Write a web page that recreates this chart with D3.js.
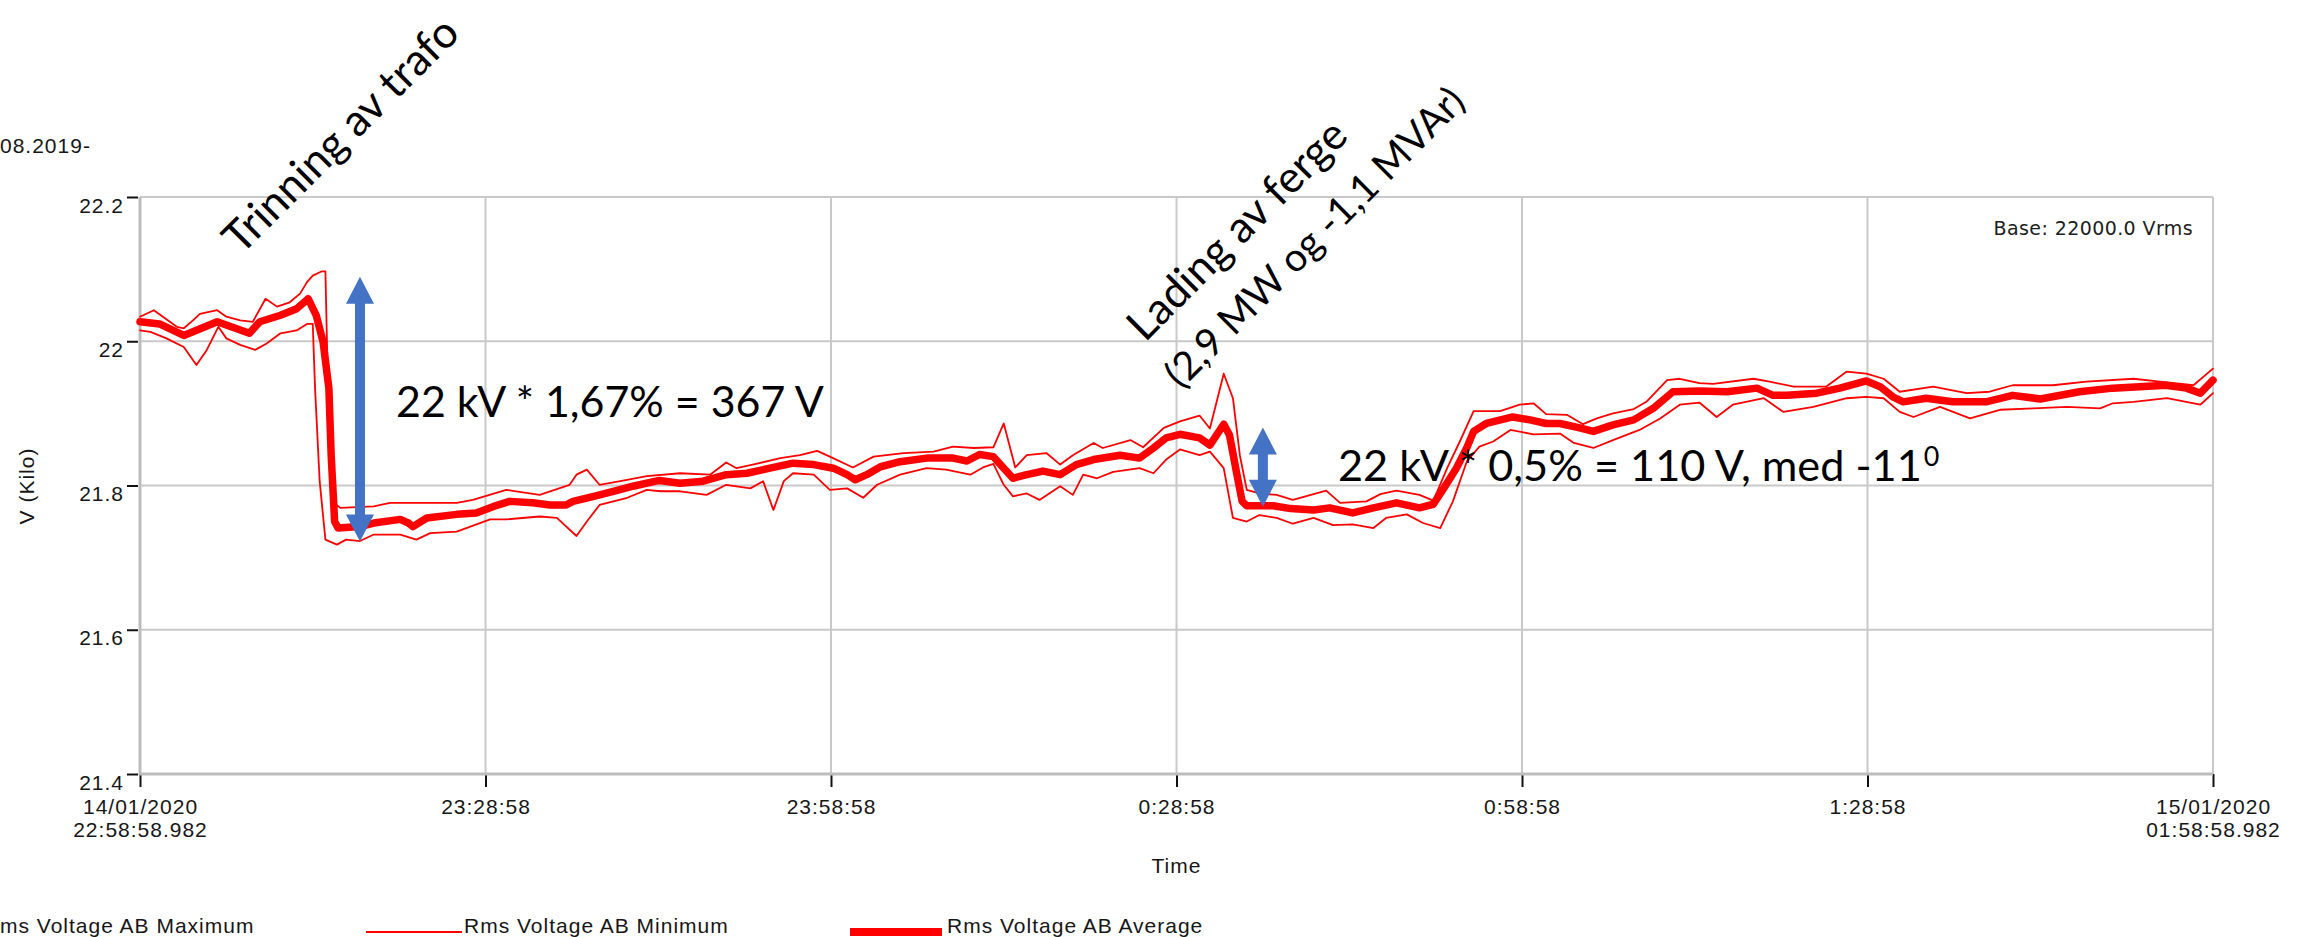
<!DOCTYPE html>
<html>
<head>
<meta charset="utf-8">
<script src="https://cdn.jsdelivr.net/npm/d3@7"></script>
<style>
  html, body { margin: 0; padding: 0; background: #ffffff; }
  svg { display: block; }
</style>
</head>
<body>
<svg id="chart" width="2307" height="937"></svg>
<script>
// ---- time span of the recording ----
const START = new Date(2020, 0, 14, 22, 58, 58, 982);
const END = new Date(2020, 0, 15, 1, 58, 58, 982);
const atMinute = m => new Date(START.getTime() + m * 60000);

// ---- axes ----
const yTickValues = [21.4, 21.6, 21.8, 22.0, 22.2];
const xTickMinutes = [0, 30, 60, 90, 120, 150, 180];

// ---- series: [minutes after start, kV] ----
const maxSeries = [
  [0,22.034],[1.2,22.043],[3.2,22.020],[3.8,22.018],[4.6,22.029],[5.2,22.038],[6.7,22.043],[7.5,22.034],
  [8.7,22.029],[9.8,22.027],[10.9,22.059],[11.9,22.048],[13.0,22.054],[13.9,22.066],[14.5,22.082],[15.0,22.091],
  [15.8,22.097],[16.1,22.097],[16.3,21.950],[16.9,21.775],[17.4,21.769],[20.3,21.771],[21.7,21.776],[27.5,21.776],
  [28.9,21.780],[31.8,21.794],[34.7,21.787],[37.3,21.801],[37.9,21.815],[38.8,21.822],[39.9,21.801],[41.7,21.806],
  [44.0,21.813],[46.9,21.817],[49.5,21.815],[50.9,21.832],[51.8,21.824],[53.5,21.830],[55.6,21.838],[57.3,21.842],
  [58.8,21.848],[59.9,21.840],[61.9,21.825],[63.7,21.840],[66.3,21.845],[68.9,21.847],[70.6,21.854],[72.4,21.852],
  [74.1,21.853],[75.0,21.886],[76.0,21.825],[77.0,21.842],[78.7,21.845],[79.9,21.829],[81.0,21.842],[82.8,21.859],
  [83.6,21.852],[86.0,21.863],[87.1,21.853],[88.9,21.880],[90.3,21.889],[92.0,21.897],[92.9,21.879],[94.1,21.955],
  [94.9,21.921],[95.5,21.842],[96.1,21.794],[97.2,21.789],[98.7,21.787],[100.1,21.780],[103.0,21.793],[104.2,21.776],
  [106.5,21.778],[107.7,21.788],[109.1,21.793],[111.1,21.787],[112.3,21.779],[113.5,21.824],[114.6,21.861],[115.8,21.903],
  [118.1,21.903],[119.8,21.912],[121.0,21.914],[122.1,21.899],[123.9,21.898],[125.3,21.885],[126.5,21.893],[127.9,21.900],
  [129.7,21.906],[130.8,21.916],[132.6,21.946],[133.7,21.948],[135.4,21.942],[136.6,21.941],[140.1,21.948],[141.5,21.944],
  [143.6,21.937],[146.4,21.937],[148.2,21.958],[149.9,21.955],[151.4,21.948],[152.8,21.930],[155.7,21.937],[158.6,21.928],
  [160.6,21.930],[162.6,21.939],[166.1,21.939],[169.0,21.944],[173.1,21.948],[175.4,21.944],[178.3,21.939],[180,21.962]
];

const minSeries = [
  [0,22.015],[0.9,22.013],[2.3,22.004],[3.8,21.992],[4.9,21.967],[5.8,21.988],[6.8,22.020],[7.5,22.004],
  [8.7,21.995],[10.0,21.988],[11.0,21.997],[12.2,22.011],[13.6,22.015],[14.5,22.024],[15.0,22.024],[15.2,21.935],
  [15.6,21.806],[16.1,21.725],[17.1,21.718],[17.9,21.725],[19.1,21.723],[20.3,21.732],[22.6,21.732],[24.0,21.725],
  [25.2,21.734],[27.5,21.736],[30.4,21.753],[31.8,21.753],[34.7,21.757],[36.2,21.755],[37.9,21.730],[38.8,21.750],
  [39.9,21.773],[42.3,21.783],[44.0,21.794],[45.2,21.792],[46.9,21.792],[49.2,21.787],[50.9,21.801],[53.0,21.796],
  [54.1,21.806],[55.0,21.766],[55.9,21.806],[56.7,21.817],[58.5,21.815],[59.9,21.794],[61.4,21.796],[62.8,21.783],
  [64.0,21.801],[66.0,21.815],[68.3,21.824],[70.0,21.822],[72.1,21.815],[73.2,21.825],[74.1,21.830],[75.0,21.801],
  [75.8,21.785],[77.0,21.789],[78.1,21.780],[79.9,21.799],[81.0,21.787],[81.9,21.815],[83.1,21.810],[84.5,21.819],
  [86.8,21.824],[88.0,21.817],[89.1,21.836],[90.3,21.850],[92.0,21.842],[92.9,21.847],[94.1,21.824],[94.9,21.755],
  [96.1,21.750],[97.2,21.759],[98.7,21.755],[100.1,21.747],[101.9,21.755],[103.6,21.745],[105.3,21.746],[107.1,21.741],
  [108.2,21.755],[110.0,21.760],[111.4,21.748],[112.9,21.741],[114.0,21.778],[115.2,21.833],[116.3,21.854],[117.5,21.861],
  [119.0,21.877],[121.0,21.871],[123.3,21.872],[124.5,21.859],[126.2,21.852],[127.9,21.863],[130.2,21.877],[132.0,21.893],
  [133.7,21.912],[135.4,21.915],[136.9,21.895],[138.3,21.912],[141.0,21.921],[142.7,21.902],[145.3,21.909],[148.2,21.921],
  [149.9,21.923],[151.4,21.921],[152.8,21.902],[154.0,21.895],[156.3,21.909],[158.9,21.893],[161.5,21.905],[164.4,21.907],
  [167.3,21.909],[170.2,21.907],[171.3,21.914],[173.1,21.916],[176.0,21.921],[178.9,21.912],[180,21.928]
];

const avgSeries = [
  [0,22.027],[1.7,22.024],[3.8,22.008],[6.7,22.027],[9.5,22.011],[10.4,22.027],[12.2,22.036],[13.6,22.045],
  [14.6,22.059],[15.3,22.036],[15.9,21.999],[16.4,21.935],[16.6,21.842],[16.9,21.750],[17.2,21.741],[19.1,21.743],
  [20.3,21.748],[22.6,21.753],[23.3,21.748],[23.7,21.743],[24.9,21.755],[27.5,21.760],[29.2,21.762],[30.7,21.771],
  [32.1,21.778],[34.1,21.776],[35.6,21.773],[37.0,21.773],[37.6,21.778],[39.4,21.785],[41.1,21.792],[42.8,21.799],
  [45.1,21.807],[46.9,21.803],[48.9,21.806],[50.9,21.815],[52.7,21.817],[54.7,21.824],[56.7,21.831],[58.5,21.829],
  [60.2,21.824],[61.4,21.815],[62.1,21.808],[63.1,21.815],[64.3,21.826],[66.0,21.833],[68.3,21.838],[70.6,21.838],
  [71.8,21.834],[72.9,21.843],[74.1,21.840],[75.0,21.824],[75.8,21.810],[77.0,21.815],[78.4,21.820],[79.9,21.815],
  [81.3,21.829],[82.8,21.836],[85.1,21.842],[86.8,21.838],[88.0,21.852],[89.1,21.866],[90.3,21.871],[92.0,21.866],
  [92.9,21.856],[94.1,21.885],[94.6,21.870],[95.2,21.819],[95.7,21.778],[96.1,21.772],[98.4,21.772],[99.9,21.768],
  [101.9,21.766],[103.3,21.769],[105.3,21.762],[107.1,21.769],[109.1,21.776],[111.1,21.769],[112.3,21.774],[113.2,21.796],
  [114.3,21.824],[115.2,21.852],[115.8,21.875],[116.9,21.886],[119.2,21.895],[120.7,21.891],[122.1,21.886],[123.3,21.886],
  [125.0,21.880],[126.2,21.875],[127.9,21.884],[129.7,21.891],[131.4,21.907],[133.1,21.930],[135.4,21.931],[137.8,21.930],
  [140.4,21.935],[141.8,21.925],[143.0,21.925],[145.6,21.928],[147.6,21.935],[149.9,21.945],[151.1,21.937],[152.2,21.923],
  [153.1,21.916],[155.1,21.921],[157.4,21.916],[160.3,21.916],[162.6,21.925],[165.0,21.920],[168.4,21.930],[171.3,21.935],
  [175.9,21.939],[177.7,21.935],[178.9,21.928],[180,21.946]
];

// ---- voltage steps marked with double arrows (minute, mid level in kV, step in V) ----
const stepArrows = [
  { minute: 19.1, level: 21.906, volts: 367 },
  { minute: 97.5, level: 21.8255, volts: 110 }
];

// ---- legend ----
const legendLabels = ["ms Voltage AB Maximum", "Rms Voltage AB Minimum", "Rms Voltage AB Average"];

// ---------------------------------------------------------------
const svg = d3.select("#chart");
const plot = { left: 140, right: 2213, top: 197, bottom: 774 };
const RED = "#ff0000";
const GRID = "#c9c9c9";
const axisFont = "'Liberation Sans', Arial, sans-serif";
const annoFont = "Lato, 'Open Sans', sans-serif";

const x = d3.scaleTime().domain([START, END]).range([plot.left, plot.right]);
const y = d3.scaleLinear().domain([21.4, 22.2]).range([plot.bottom, plot.top]);
const xTickDates = xTickMinutes.map(atMinute);

// grid
const grid = svg.append("g");
grid.selectAll("line.h").data(yTickValues.filter(v => v > 21.4)).join("line")
  .attr("x1", plot.left).attr("x2", plot.right)
  .attr("y1", d => y(d)).attr("y2", d => y(d))
  .attr("stroke", GRID).attr("stroke-width", 2);
grid.selectAll("line.v").data(xTickDates.slice(1)).join("line")
  .attr("x1", d => x(d)).attr("x2", d => x(d))
  .attr("y1", plot.top).attr("y2", plot.bottom)
  .attr("stroke", GRID).attr("stroke-width", 2);

// y axis
const yAxis = svg.append("g").attr("transform", `translate(${plot.left},0)`)
  .call(d3.axisLeft(y).tickValues(yTickValues).tickSize(11).tickPadding(5)
        .tickFormat(d3.format("")));
yAxis.select(".domain").remove();
yAxis.selectAll(".tick line").attr("stroke", "#111").attr("stroke-width", 2)
  .attr("transform", "translate(-2,0)");
yAxis.selectAll(".tick text")
  .attr("dy", "0.72em")
  .style("font-family", axisFont).style("font-size", "21px")
  .style("letter-spacing", "1px").attr("fill", "#161616");

// x axis
const fmtTick = d3.timeFormat("%-H:%M:%S");
const fmtDate = d3.timeFormat("%d/%m/%Y");
const fmtFull = d3.timeFormat("%H:%M:%S.%L");
const xAxis = svg.append("g").attr("transform", `translate(0,${plot.bottom})`)
  .call(d3.axisBottom(x).tickValues(xTickDates).tickSize(13).tickPadding(12)
        .tickFormat(fmtTick));
xAxis.select(".domain").remove();
xAxis.selectAll(".tick line").attr("stroke", "#111").attr("stroke-width", 2);
xAxis.selectAll(".tick text")
  .style("font-family", axisFont).style("font-size", "21px")
  .style("letter-spacing", "1px").attr("fill", "#161616")
  .each(function (d, i, nodes) {
    if (i === 0 || i === nodes.length - 1) {
      const t = d3.select(this).text(null);
      t.append("tspan").attr("x", 0).text(fmtDate(d));
      t.append("tspan").attr("x", 0).attr("dy", 23).text(fmtFull(d));
    }
  });

// axis lines (left and bottom)
svg.append("line").attr("x1", plot.left).attr("x2", plot.left)
  .attr("y1", plot.top).attr("y2", plot.bottom + 1)
  .attr("stroke", "#bdbdbd").attr("stroke-width", 3);
svg.append("line").attr("x1", plot.left).attr("x2", plot.right)
  .attr("y1", plot.bottom).attr("y2", plot.bottom)
  .attr("stroke", "#bdbdbd").attr("stroke-width", 3);

// axis titles and captions
svg.append("text").attr("x", (plot.left + plot.right) / 2).attr("y", 873)
  .attr("text-anchor", "middle").style("font-family", axisFont).style("font-size", "21px")
  .style("letter-spacing", "1px").attr("fill", "#161616").text("Time");
svg.append("text").attr("transform", "translate(34,486) rotate(-90)")
  .attr("text-anchor", "middle").style("font-family", axisFont).style("font-size", "21px")
  .style("letter-spacing", "1px").attr("fill", "#161616").text("V (Kilo)");
svg.append("text").attr("x", 0).attr("y", 153)
  .style("font-family", axisFont).style("font-size", "21px")
  .style("letter-spacing", "1px").attr("fill", "#161616").text("08.2019-");
svg.append("text").attr("x", 2193).attr("y", 235).attr("text-anchor", "end")
  .style("font-family", "'DejaVu Sans', Verdana, sans-serif").style("font-size", "19px")
  .style("letter-spacing", "0.4px").attr("fill", "#202020").text("Base: 22000.0 Vrms");

// series
const line = d3.line().x(d => x(atMinute(d[0]))).y(d => y(d[1]));
const series = svg.append("g").attr("fill", "none").attr("stroke", RED)
  .attr("stroke-linejoin", "round").attr("stroke-linecap", "round");
series.append("path").datum(maxSeries).attr("d", line).attr("stroke-width", 1.8);
series.append("path").datum(minSeries).attr("d", line).attr("stroke-width", 1.8);
series.append("path").datum(avgSeries).attr("d", line).attr("stroke-width", 7.5);

// double arrows showing the voltage steps
const arrows = svg.append("g").attr("fill", "#4472c4");
stepArrows.forEach(a => {
  const half = a.volts / 1000 / 2;
  const ax = x(atMinute(a.minute));
  const yt = y(a.level + half), yb = y(a.level - half);
  const hw = 14, hl = 27, sw = 5;
  const pts = [
    [ax, yt], [ax + hw, yt + hl], [ax + sw, yt + hl], [ax + sw, yb - hl], [ax + hw, yb - hl],
    [ax, yb], [ax - hw, yb - hl], [ax - sw, yb - hl], [ax - sw, yt + hl], [ax - hw, yt + hl]
  ];
  arrows.append("path").attr("d", "M" + pts.map(p => p.join(",")).join("L") + "Z");
});

// annotation texts
function fitFont(sel, targetWidth) {
  sel.style("font-size", "100px");
  const w = sel.node().getComputedTextLength();
  const size = 100 * targetWidth / w;
  sel.style("font-size", size + "px");
  return size;
}
const notes = svg.append("g").style("font-family", annoFont).attr("fill", "#000");

fitFont(notes.append("text").attr("transform", "translate(241,256) rotate(-45)")
  .text("Trinning av trafo"), 312);
fitFont(notes.append("text").attr("transform", "translate(1145,343) rotate(-45)")
  .text("Lading av ferge"), 290);
fitFont(notes.append("text").attr("transform", "translate(1181,390) rotate(-45)")
  .text("(2,9 MW og -1,1 MVAr)"), 405);

fitFont(notes.append("text").attr("x", 396).attr("y", 417)
  .text(`22 kV * 1,67% = ${stepArrows[0].volts} V`), 428);

const t2 = notes.append("text").attr("x", 1338).attr("y", 481)
  .text(`22 kV * 0,5% = ${stepArrows[1].volts} V, med -11`);
const s2 = fitFont(t2, 584);
t2.append("tspan").attr("dx", 2).attr("dy", -0.34 * s2)
  .style("font-size", (0.62 * s2) + "px").text("0");

// legend
const legend = svg.append("g").style("font-family", axisFont).style("font-size", "21px")
  .style("letter-spacing", "1px").attr("fill", "#161616");
legend.append("text").attr("x", 0).attr("y", 933).text(legendLabels[0]);
legend.append("line").attr("x1", 366).attr("x2", 462).attr("y1", 932).attr("y2", 932)
  .attr("stroke", RED).attr("stroke-width", 2);
legend.append("text").attr("x", 464).attr("y", 933).text(legendLabels[1]);
legend.append("line").attr("x1", 850).attr("x2", 942).attr("y1", 932).attr("y2", 932)
  .attr("stroke", RED).attr("stroke-width", 8);
legend.append("text").attr("x", 947).attr("y", 933).text(legendLabels[2]);
</script>
</body>
</html>
